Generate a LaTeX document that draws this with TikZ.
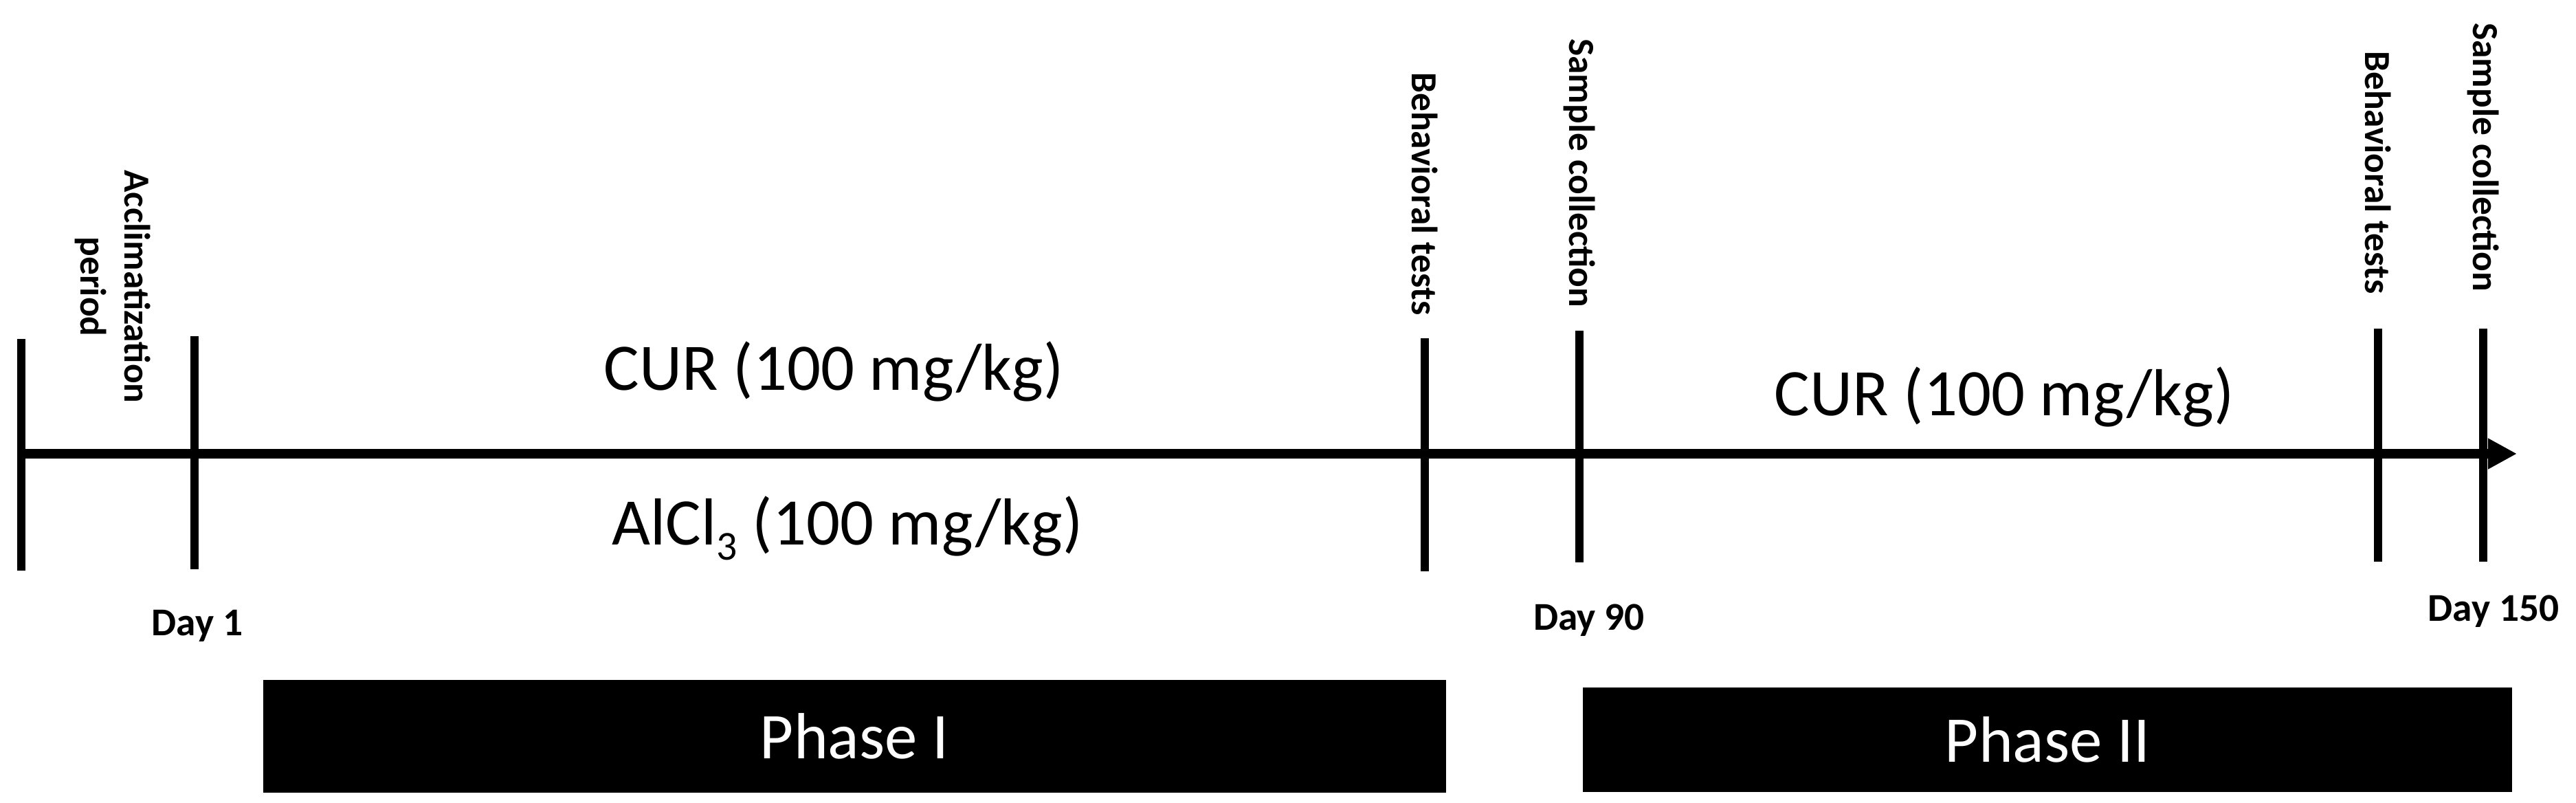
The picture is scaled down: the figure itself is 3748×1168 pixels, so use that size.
\documentclass[tikz,border=0pt]{standalone}
\usepackage{fontspec}
\setmainfont{Carlito}
\usetikzlibrary{arrows.meta}
\begin{document}
\begin{tikzpicture}[x=0.01cm,y=-0.01cm,
  tickline/.style={line width=3.4pt},
  axisline/.style={line width=4pt,-{Triangle[length=12pt,width=12pt]}},
  vlabel/.style={rotate=-90,anchor=east,inner sep=0pt,font=\fontsize{15.2}{18.3}\selectfont\bfseries},
  daylabel/.style={anchor=base,inner sep=0pt,font=\fontsize{16.3}{19}\selectfont\bfseries},
  dose/.style={anchor=base,inner sep=0pt,font=\fontsize{27.5}{33}\selectfont},
  phasebox/.style={fill=black,text=white,inner sep=0pt,font=\fontsize{27}{32}\selectfont}]
\useasboundingbox[fill=white] (0,0) rectangle (3748,1168);

% axis
\coordinate (start) at (29,660);
\coordinate (tip) at (3662,660);
\draw[axisline] (start) -- (tip);

% ticks
\coordinate (t0a) at (31,493);   \coordinate (t0b) at (31,830);
\coordinate (t1a) at (283,489);  \coordinate (t1b) at (283,828);
\coordinate (t2a) at (2073,492); \coordinate (t2b) at (2073,831);
\coordinate (t3a) at (2298,481); \coordinate (t3b) at (2298,818);
\coordinate (t4a) at (3460,478); \coordinate (t4b) at (3460,817);
\coordinate (t5a) at (3613,478); \coordinate (t5b) at (3613,817);
\foreach \t in {t0,t1,t2,t3,t4,t5}{\draw[tickline] (\t a) -- (\t b);}

% vertical labels
\node[rotate=-90,inner sep=0pt,align=center,font=\fontsize{15.2}{18.3}\selectfont\bfseries] (acc) at (164,417) {Acclimatization\\period};
\node[vlabel] (bt1) at (2073,459) {Behavioral tests};
\node[vlabel] (sc1) at (2298,448) {Sample collection};
\node[vlabel] (bt2) at (3460,428) {Behavioral tests};
\node[vlabel] (sc2) at (3613,425) {Sample collection};

% doses
\node[dose] (cur1) at (1213,568) {CUR (100 mg/kg)};
\node[dose] (alcl) at (1233,793) {AlCl\raisebox{-0.22em}{\fontsize{17}{20}\selectfont 3} (100 mg/kg)};
\node[dose] (cur2) at (2916,605) {CUR (100 mg/kg)};

% day labels
\node[daylabel] (d1) at (287,925) {Day 1};
\node[daylabel] (d90) at (2312,917) {Day 90};
\node[daylabel] (d150) at (3628,904) {Day 150};

% phases
\node[phasebox,minimum width=17.2cm,minimum height=1.64cm] (p1) at (1243,1071) {Phase I};
\node[phasebox,minimum width=13.52cm,minimum height=1.52cm] (p2) at (2979,1076) {Phase II};
\end{tikzpicture}
\end{document}
